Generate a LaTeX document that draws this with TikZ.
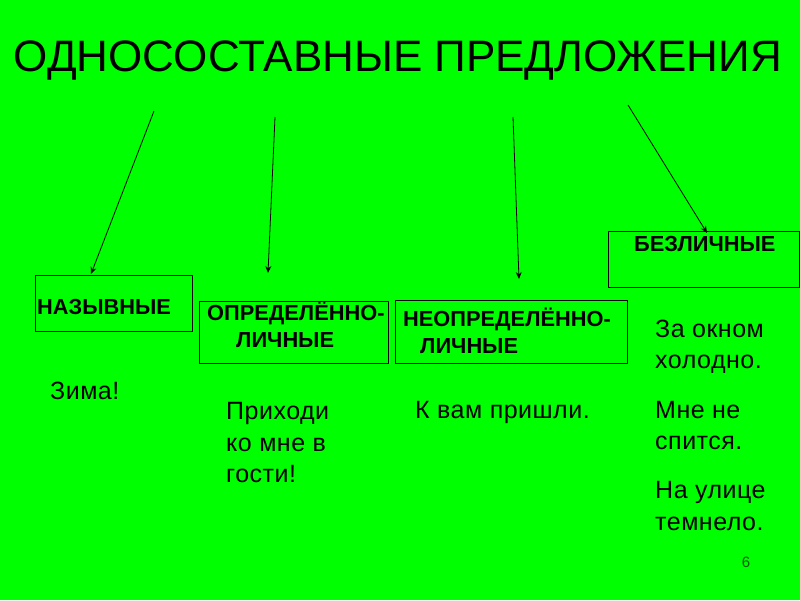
\documentclass[tikz,border=0pt]{standalone}
\usepackage{fontspec}
\setmainfont{Liberation Sans}
\usetikzlibrary{arrows.meta}
\definecolor{bg}{RGB}{0,255,0}
\definecolor{pgnum}{RGB}{0,90,0}
\begin{document}
\begin{tikzpicture}[x=1pt,y=-1pt,
  box/.style={draw=black,line width=0.9pt,inner sep=0pt,anchor=north west},
  lbl/.style={inner sep=0pt,anchor=base west,font=\fontsize{21.8}{24}\selectfont\bfseries},
  ex/.style={inner sep=0pt,anchor=base west,font=\fontsize{25}{31}\selectfont\addfontfeature{LetterSpace=2}},
  conn/.style={draw=black,line width=0.8pt,-{Stealth[length=7pt,width=6pt]}}]
\fill[bg] (0,0) rectangle (800,600);
\useasboundingbox (0,0) rectangle (800,600);
% title
\node[inner sep=0pt,anchor=base,font=\fontsize{44}{48}\selectfont] (title) at (398,71) {ОДНОСОСТАВНЫЕ ПРЕДЛОЖЕНИЯ};
% boxes
\node[box,minimum width=157pt,minimum height=56pt] (b1) at (35,275) {};
\node[box,minimum width=189pt,minimum height=62pt] (b2) at (199,301) {};
\node[box,minimum width=232pt,minimum height=63pt] (b3) at (395,300) {};
\node[box,minimum width=191pt,minimum height=56pt] (b4) at (608,231) {};
% box labels
\node[lbl] (l1) at (37,314) {НАЗЫВНЫЕ};
\node[lbl] (l2a) at (207,320) {ОПРЕДЕЛЁННО-};
\node[lbl] (l2b) at (236,347) {ЛИЧНЫЕ};
\node[lbl] (l3a) at (403,326) {НЕОПРЕДЕЛЁННО-};
\node[lbl] (l3b) at (420,353) {ЛИЧНЫЕ};
\node[lbl] (l4) at (634,251) {БЕЗЛИЧНЫЕ};
% arrows
\coordinate (s1) at (154,111); \coordinate (e1) at (91,274);
\coordinate (s2) at (275,117); \coordinate (e2) at (268,273);
\coordinate (s3) at (513,117); \coordinate (e3) at (519,279);
\coordinate (s4) at (628,105); \coordinate (e4) at (707,233);
\draw[conn] (s1) -- (e1);
\draw[conn] (s2) -- (e2);
\draw[conn] (s3) -- (e3);
\draw[conn] (s4) -- (e4);
% examples
\node[ex] (x1) at (50,399) {Зима!};
\node[ex] (x2a) at (226,419) {Приходи};
\node[ex] (x2b) at (226,451) {ко мне в};
\node[ex] (x2c) at (226,482) {гости!};
\node[ex] (x3) at (415,418) {К вам пришли.};
\node[ex] (x4a) at (655,337) {За окном};
\node[ex] (x4b) at (655,368) {холодно.};
\node[ex] (x4c) at (655,418) {Мне не};
\node[ex] (x4d) at (655,449) {спится.};
\node[ex] (x4e) at (655,498) {На улице};
\node[ex] (x4f) at (655,530) {темнело.};
% page number
\node[inner sep=0pt,anchor=base,font=\fontsize{15}{16}\selectfont,text=pgnum] (pn) at (746,567) {6};
\end{tikzpicture}
\end{document}
